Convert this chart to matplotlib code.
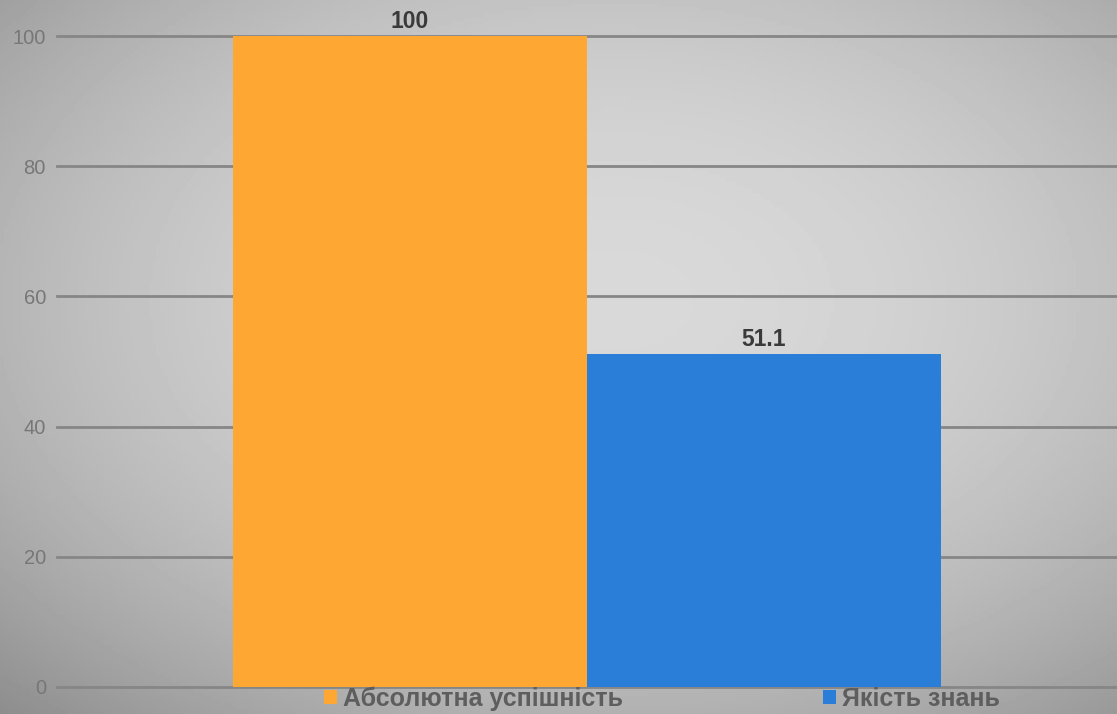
import numpy as np
import matplotlib
matplotlib.use('Agg')
import matplotlib.pyplot as plt
from matplotlib.patches import Patch

# chart data
categories = ['Абсолютна успішність', 'Якість знань']
values = [100, 51.1]
value_labels = ['100', '51.1']
colors = ['#ffa733', '#2a7ed8']
y_ticks = [0, 20, 40, 60, 80, 100]

plt.rcParams['font.family'] = ['Liberation Sans', 'DejaVu Sans']

W, H = 1117, 714
fig = plt.figure(figsize=(W / 100, H / 100), dpi=100)

# grey vignette background standing in for the paper texture
bg = fig.add_axes([0, 0, 1, 1], zorder=-10)
yy, xx = np.mgrid[0:1:200j, 0:1:300j]
r2 = ((xx - 0.55) / 0.72) ** 2 + ((yy - 0.42) / 0.72) ** 2
shade = np.clip(0.85 - 0.24 * r2, 0.52, 0.9)
bg.imshow(shade, cmap='gray', vmin=0, vmax=1, aspect='auto',
          extent=[0, 1, 0, 1], origin='upper')
bg.axis('off')

ax = fig.add_axes([57 / W, (H - 687) / H, 1060 / W, 651 / H])
ax.patch.set_alpha(0)

bar_w = 0.334
xpos = [-bar_w / 2, bar_w / 2]
bars = ax.bar(xpos, values, width=bar_w, color=colors, zorder=3)
for b, lab in zip(bars, value_labels):
    ax.text(b.get_x() + b.get_width() / 2, b.get_height() + 0.5, lab,
            ha='center', va='bottom', fontsize=16.5, fontweight='bold',
            color='#3a3a3a')

ax.set_xlim(-0.5, 0.5)
ax.set_ylim(0, 100)
ax.set_yticks(y_ticks)
ax.set_xticks([])
ax.yaxis.grid(True, color='#868686', linewidth=2, zorder=1)
for gl in ax.get_ygridlines():
    gl.set_clip_on(False)
ax.tick_params(axis='y', length=0, pad=8, labelsize=14.5, labelcolor='#777777')
for s in ax.spines.values():
    s.set_visible(False)

handles = [Patch(facecolor=c, edgecolor='none') for c in colors]
leg = fig.legend(handles, categories, loc='center', ncol=2,
                 bbox_to_anchor=(662 / W, 1 - 699 / H), frameon=False,
                 handlelength=0.5, handleheight=0.5, handletextpad=0.25,
                 columnspacing=8.0, borderpad=0,
                 prop={'size': 18, 'weight': 'bold'})
for t in leg.get_texts():
    t.set_color('#5e5e5e')

fig.savefig('out.png', dpi=100)
